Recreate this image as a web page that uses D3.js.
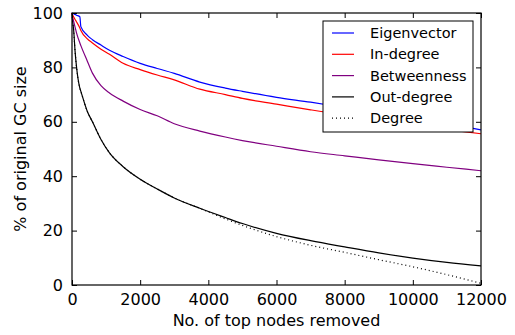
<!DOCTYPE html>
<html>
<head>
<meta charset="utf-8">
<script src="https://cdn.jsdelivr.net/npm/d3@7"></script>
<style>
  body { margin: 0; background: #fff; }
  svg text { font-family: "DejaVu Sans", sans-serif; fill: #000; }
</style>
</head>
<body>
<div id="chart"></div>
<script>
const nodesRemoved = [0, 20, 50, 90, 130, 230, 260, 450, 600, 850, 1100, 1500, 2000, 2500, 3000, 3750, 4500, 5000, 6000, 7000, 8000, 9000, 10000, 11000, 12000];
const eigenvector = [100, 99.9, 99.7, 99.5, 99.2, 98.6, 95.0, 91.8, 90.2, 88.2, 86.3, 84.0, 81.5, 79.6, 77.8, 74.6, 72.4, 71.2, 69.0, 67.2, 65.2, 63.2, 61.2, 59.3, 57.0];
const inDegree = [100, 99.3, 98.5, 97.6, 96.8, 94.5, 93.6, 90.5, 89.0, 86.7, 84.8, 81.5, 79.2, 77.2, 75.4, 72.0, 70.0, 68.6, 66.5, 64.4, 62.4, 60.6, 58.8, 57.2, 55.6];
const betweenness = [100, 98.5, 96.8, 94.8, 92.8, 89.0, 88.0, 82.3, 77.9, 73.3, 70.6, 67.6, 64.5, 62.2, 59.3, 56.6, 54.4, 53.1, 51.0, 49.0, 47.5, 46.0, 44.6, 43.3, 42.0];
const outDegree = [100, 97, 93.5, 86, 80.5, 72.4, 71.2, 63.8, 60.0, 53.5, 48.6, 43.5, 38.9, 35.3, 32.0, 28.2, 24.8, 22.6, 19.0, 16.3, 14.0, 11.8, 9.9, 8.3, 7.0];
const degree = [100, 97, 93.5, 86, 80.5, 72.4, 71.2, 63.8, 60.0, 53.5, 48.6, 43.5, 38.9, 35.3, 32.0, 28.2, 24.3, 21.9, 17.8, 14.6, 12.0, 9.3, 6.7, 3.8, 0.6];
const seriesNames = ["Eigenvector", "In-degree", "Betweenness", "Out-degree", "Degree"];
const xTicks = [0, 2000, 4000, 6000, 8000, 10000, 12000];
const yTicks = [0, 20, 40, 60, 80, 100];

const series = [
  { name: seriesNames[0], values: eigenvector, color: "#0000ff", dash: null },
  { name: seriesNames[1], values: inDegree, color: "#ff0000", dash: null },
  { name: seriesNames[2], values: betweenness, color: "#800080", dash: null },
  { name: seriesNames[3], values: outDegree, color: "#000000", dash: null },
  { name: seriesNames[4], values: degree, color: "#000000", dash: "1,3" },
];

const width = 515;
const height = 335;
const margin = { top: 13, right: 34, bottom: 50, left: 72 };
const plotW = width - margin.left - margin.right;
const plotH = height - margin.top - margin.bottom;

const svg = d3.select("#chart")
  .append("svg")
  .attr("width", width)
  .attr("height", height);

const g = svg.append("g")
  .attr("transform", `translate(${margin.left},${margin.top})`);

const x = d3.scaleLinear().domain([0, 12000]).range([0, plotW]);
const y = d3.scaleLinear().domain([0, 100]).range([plotH, 0]);

// data lines
const line = d3.line()
  .x((d, i) => x(nodesRemoved[i]))
  .y((d) => y(d))
  .curve(d3.curveMonotoneX);

// draw degree underneath out-degree
[4, 3, 2, 1, 0].forEach((k) => {
  const s = series[k];
  g.append("path")
    .datum(s.values)
    .attr("fill", "none")
    .attr("stroke", s.color)
    .attr("stroke-width", 1.2)
    .attr("stroke-dasharray", s.dash)
    .attr("d", line);
});

// axes, ticks pointing inward (classic matplotlib look)
const tickFont = "16px";
g.append("g")
  .attr("transform", `translate(0,${plotH})`)
  .call(d3.axisBottom(x).tickValues(xTicks).tickSizeInner(-5).tickSizeOuter(0).tickPadding(9).tickFormat(d3.format("d")))
  .call((a) => a.select(".domain").remove())
  .selectAll("text").style("font-size", tickFont);

g.append("g")
  .call(d3.axisTop(x).tickValues(xTicks).tickSizeInner(-5).tickSizeOuter(0).tickFormat(""))
  .call((a) => a.select(".domain").remove());

g.append("g")
  .call(d3.axisLeft(y).tickValues(yTicks).tickSizeInner(-5).tickSizeOuter(0).tickPadding(9))
  .call((a) => a.select(".domain").remove())
  .selectAll("text").style("font-size", tickFont);

g.append("g")
  .attr("transform", `translate(${plotW},0)`)
  .call(d3.axisRight(y).tickValues(yTicks).tickSizeInner(-5).tickSizeOuter(0).tickFormat(""))
  .call((a) => a.select(".domain").remove());

g.selectAll(".tick line").attr("stroke", "#000").attr("stroke-width", 1);

g.append("rect")
  .attr("width", plotW)
  .attr("height", plotH)
  .attr("fill", "none")
  .attr("stroke", "#000")
  .attr("stroke-width", 1.2);

// axis titles
g.append("text")
  .attr("x", plotW / 2)
  .attr("y", plotH + 41)
  .attr("text-anchor", "middle")
  .style("font-size", "16px")
  .text("No. of top nodes removed");

g.append("text")
  .attr("transform", "rotate(-90)")
  .attr("x", -plotH / 2)
  .attr("y", -46)
  .attr("text-anchor", "middle")
  .style("font-size", "16px")
  .text("% of original GC size");

// legend
const legend = svg.append("g").attr("transform", "translate(323,21)");
legend.append("rect")
  .attr("width", 150)
  .attr("height", 111)
  .attr("fill", "#fff")
  .attr("stroke", "#000")
  .attr("stroke-width", 1);

series.forEach((s, i) => {
  const row = legend.append("g").attr("transform", `translate(0,${12 + i * 21.3})`);
  row.append("line")
    .attr("x1", 9)
    .attr("x2", 31)
    .attr("stroke", s.color)
    .attr("stroke-width", 1.2)
    .attr("stroke-dasharray", s.dash);
  row.append("text")
    .attr("x", 47)
    .attr("dy", "0.35em")
    .style("font-size", "14.5px")
    .text(s.name);
});
</script>
</body>
</html>
